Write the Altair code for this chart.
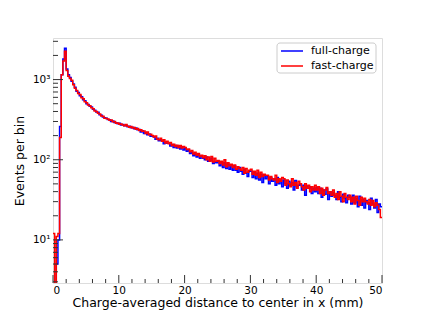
import altair as alt
import pandas as pd

BIN_WIDTH = 0.25
series_names = ["full-charge", "fast-charge"]
series_colors = ["#0000ff", "#ff0000"]

full_charge = [
    1, 1, 5, 10, 260, 1150, 1800, 2450, 1350, 1150,
    1060, 950, 880, 800, 715, 690, 630, 610, 560, 545,
    500, 490, 465, 455, 425, 415, 395, 390, 365, 360,
    342, 335, 330, 318, 315, 300, 305, 292, 290, 282,
    285, 272, 276, 265, 270, 258, 262, 250, 254, 243,
    248, 236, 238, 222, 230, 212, 218, 205, 210, 196,
    198, 192, 180, 186, 172, 178, 170, 158, 166, 160,
    160, 148, 155, 142, 150, 140, 148, 136, 145, 132,
    138, 128, 132, 120, 124, 112, 118, 108, 116, 104,
    112, 104, 100, 108, 96, 98, 104, 90, 94, 92,
    96, 84, 94, 80, 92, 78, 88, 76, 86, 74,
    84, 74, 70, 80, 72, 66, 76, 68, 62, 72,
    72, 60, 70, 58, 68, 56, 66, 52, 64, 58,
    62, 50, 60, 54, 58, 48, 60, 50, 56, 46,
    56, 50, 44, 54, 48, 52, 42, 55, 46, 48,
    50, 42, 48, 36, 47, 44, 46, 38, 44, 40,
    45, 38, 44, 34, 42, 37, 43, 32, 40, 35,
    39, 36, 32, 40, 34, 30, 37, 33, 29, 36,
    34, 28, 36, 29, 33, 26, 35, 27, 32, 25,
    31, 29, 24, 33, 28, 25, 32, 22, 28, 26,
]

fast_charge = [
    12, 1, 11, 12, 190, 1150, 1700, 2250, 1300, 1100,
    1030, 980, 860, 780, 730, 670, 650, 595, 575, 530,
    515, 480, 472, 445, 432, 405, 400, 380, 372, 352,
    348, 330, 326, 322, 310, 312, 298, 300, 286, 288,
    278, 280, 272, 266, 275, 262, 255, 260, 248, 252,
    240, 245, 232, 236, 226, 228, 212, 222, 205, 208,
    200, 192, 198, 182, 178, 186, 170, 178, 162, 170,
    158, 164, 150, 156, 146, 152, 142, 150, 140, 146,
    142, 134, 136, 126, 130, 118, 124, 114, 120, 110,
    114, 106, 112, 100, 108, 96, 110, 94, 104, 96,
    98, 90, 96, 86, 100, 82, 92, 84, 88, 80,
    86, 76, 82, 78, 74, 80, 68, 78, 70, 74,
    76, 66, 72, 64, 74, 60, 70, 62, 66, 64,
    64, 56, 62, 58, 56, 64, 52, 58, 54, 60,
    58, 48, 56, 50, 46, 58, 48, 52, 44, 54,
    50, 46, 42, 50, 44, 48, 40, 46, 42, 48,
    42, 46, 38, 44, 36, 42, 45, 38, 40, 36,
    42, 34, 38, 32, 40, 35, 30, 38, 34, 32,
    36, 30, 34, 28, 35, 31, 27, 34, 30, 33,
    30, 28, 32, 27, 31, 26, 29, 27, 24, 19,
]

x_major_ticks = [0, 10, 20, 30, 40, 50]
x_minor_ticks = [2, 4, 6, 8, 12, 14, 16, 18, 22, 24, 26, 28, 32, 34, 36, 38, 42, 44, 46, 48]
y_major_ticks = [10, 100, 1000]
y_minor_ticks = [3, 4, 5, 6, 7, 8, 9, 20, 30, 40, 50, 60, 70, 80, 90,
                 200, 300, 400, 500, 600, 700, 800, 900, 2000, 3000]

W, H = 329, 245
FONT = "DejaVu Sans"


def hist_frame(values, name):
    edges = [i * BIN_WIDTH for i in range(len(values))] + [len(values) * BIN_WIDTH]
    vals = list(values) + [values[-1]]
    return pd.DataFrame({"x": edges, "v": vals, "series": name})


df_full = hist_frame(full_charge, series_names[0])
df_fast = hist_frame(fast_charge, series_names[1])

xscale = alt.Scale(domain=[0, 50], nice=False, zero=False)
yscale = alt.Scale(type="log", domain=[2.9, 3300], nice=False)

xaxis = alt.Axis(
    title="Charge-averaged distance to center in x (mm)",
    values=x_major_ticks, ticks=False, domain=False, grid=False,
    labelFont=FONT, labelFontSize=10.5, labelColor="black", labelPadding=2,
    titleFont=FONT, titleFontSize=12.5, titleFontWeight="normal", titleColor="black",
    titlePadding=1,
)
yaxis = alt.Axis(
    title="Events per bin",
    values=y_major_ticks, ticks=False, domain=False, grid=False,
    labelExpr="datum.value == 10 ? '10¹' : datum.value == 100 ? '10²' : '10³'",
    labelFont=FONT, labelFontSize=10.5, labelColor="black", labelPadding=3,
    titleFont=FONT, titleFontSize=12.5, titleFontWeight="normal", titleColor="black",
    titlePadding=6,
)


def lines(df, color):
    return alt.Chart(df).mark_line(
        interpolate="step-after", clip=True, strokeWidth=1.5, color=color
    ).encode(
        x=alt.X("x:Q", scale=xscale, axis=xaxis),
        y=alt.Y("v:Q", scale=yscale, axis=yaxis),
    )


tick_color = "#333333"
x_major = alt.Chart(pd.DataFrame({"x": x_major_ticks})).mark_rule(color=tick_color, strokeWidth=1).encode(
    x=alt.X("x:Q", scale=xscale), y=alt.value(H), y2=alt.value(H - 8))
x_minor = alt.Chart(pd.DataFrame({"x": x_minor_ticks})).mark_rule(color=tick_color, strokeWidth=1).encode(
    x=alt.X("x:Q", scale=xscale), y=alt.value(H), y2=alt.value(H - 4))
y_major = alt.Chart(pd.DataFrame({"v": y_major_ticks})).mark_rule(color=tick_color, strokeWidth=1).encode(
    y=alt.Y("v:Q", scale=yscale), x=alt.value(0), x2=alt.value(10))
y_minor = alt.Chart(pd.DataFrame({"v": y_minor_ticks})).mark_rule(color=tick_color, strokeWidth=1).encode(
    y=alt.Y("v:Q", scale=yscale), x=alt.value(0), x2=alt.value(5))

# legend box (drawn as decoration)
leg_df = pd.DataFrame({"series": series_names})
leg_box = alt.Chart(leg_df.head(1)).mark_rect(
    fill="white", stroke="#cccccc", strokeWidth=1, cornerRadius=3
).encode(x=alt.value(224), x2=alt.value(323), y=alt.value(5), y2=alt.value(35))

leg_layers = [leg_box]
for i, (name, col) in enumerate(zip(series_names, series_colors)):
    row = leg_df.iloc[[i]]
    yy = 13 + 15 * i
    leg_layers.append(
        alt.Chart(row).mark_rule(color=col, strokeWidth=1.5).encode(
            x=alt.value(228), x2=alt.value(250), y=alt.value(yy))
    )
    leg_layers.append(
        alt.Chart(row).mark_text(
            align="left", baseline="middle", font=FONT, fontSize=11, color="black"
        ).encode(x=alt.value(258), y=alt.value(yy), text="series:N")
    )

chart = alt.layer(
    lines(df_full, series_colors[0]), lines(df_fast, series_colors[1]),
    x_major, x_minor, y_major, y_minor, *leg_layers
).properties(
    width=W, height=H,
    autosize="none",
    padding={"left": 45, "top": 30, "right": 34, "bottom": 35},
).configure_view(
    stroke="#333333", strokeWidth=1
).configure(background="white")

chart.save("out.html", embed_options={"renderer": "svg", "actions": False})
